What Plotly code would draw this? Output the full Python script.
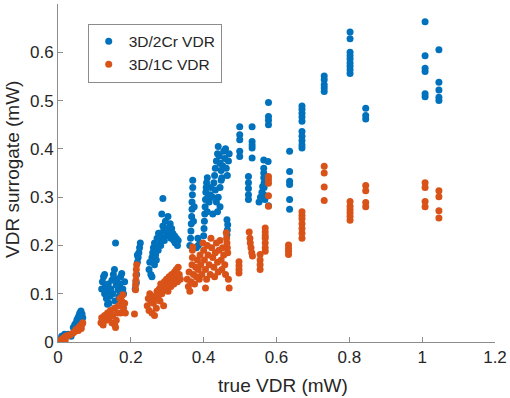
import plotly.graph_objects as go

# ---- data ----
series_names = ["3D/2Cr VDR", "3D/1C VDR"]

blue_pts = [
    (0.008,0.004),(0.012,0.008),(0.016,0.010),(0.020,0.012),(0.024,0.014),(0.028,0.016),(0.032,0.015),(0.036,0.012),(0.010,0.012),(0.018,0.016),
    (0.042,0.030),(0.046,0.036),(0.050,0.040),(0.052,0.046),(0.055,0.050),(0.058,0.056),(0.060,0.060),(0.063,0.064),(0.066,0.058),(0.068,0.050),(0.062,0.044),(0.056,0.038),
    (0.120,0.110),(0.122,0.125),(0.125,0.135),(0.128,0.100),(0.130,0.115),(0.133,0.090),(0.135,0.105),(0.138,0.120),(0.140,0.080),(0.143,0.095),(0.145,0.110),(0.148,0.128),(0.150,0.100),(0.152,0.140),(0.155,0.150),(0.157,0.085),(0.158,0.205),(0.160,0.118),(0.162,0.130),(0.165,0.108),(0.167,0.095),(0.170,0.120),(0.172,0.135),(0.175,0.142),(0.178,0.110),(0.180,0.100),(0.183,0.125),(0.128,0.140),(0.136,0.078),
    (0.212,0.110),(0.214,0.125),(0.216,0.140),(0.218,0.165),(0.220,0.175),(0.222,0.185),(0.224,0.195),(0.226,0.205),(0.218,0.180),(0.215,0.122),
    (0.250,0.150),(0.252,0.165),(0.255,0.140),(0.258,0.175),(0.260,0.185),(0.262,0.195),(0.265,0.160),(0.265,0.205),(0.268,0.180),(0.270,0.200),(0.272,0.215),(0.275,0.190),(0.278,0.210),(0.280,0.225),(0.282,0.200),(0.285,0.215),(0.288,0.240),(0.290,0.230),(0.292,0.210),(0.295,0.250),(0.298,0.220),(0.300,0.235),(0.302,0.260),(0.305,0.225),(0.308,0.245),(0.310,0.215),(0.312,0.235),(0.315,0.225),(0.318,0.210),(0.320,0.220),(0.322,0.205),(0.325,0.215),(0.328,0.200),(0.330,0.210),(0.288,0.297),(0.258,0.135),(0.270,0.170),(0.276,0.225),(0.285,0.265),
    (0.362,0.200),(0.364,0.215),(0.365,0.230),(0.366,0.245),(0.367,0.260),(0.368,0.275),(0.368,0.290),(0.369,0.305),(0.370,0.320),(0.370,0.335),(0.372,0.250),(0.374,0.280),
    (0.380,0.195),(0.385,0.200),(0.390,0.205),(0.384,0.215),
    (0.400,0.220),(0.401,0.235),(0.402,0.250),(0.403,0.265),(0.404,0.280),(0.405,0.295),(0.406,0.310),(0.407,0.320),(0.408,0.330),(0.410,0.340),(0.412,0.300),(0.410,0.270),
    (0.415,0.290),(0.418,0.305),(0.420,0.320),(0.425,0.300),(0.428,0.330),(0.430,0.345),(0.432,0.315),(0.435,0.290),(0.438,0.270),(0.440,0.300),(0.445,0.320),(0.448,0.335),(0.425,0.265),(0.445,0.280),
    (0.432,0.360),(0.435,0.375),(0.438,0.390),(0.440,0.405),(0.443,0.385),(0.445,0.370),(0.448,0.355),(0.450,0.340),(0.452,0.365),(0.455,0.395),(0.458,0.380),(0.460,0.400),(0.462,0.360),(0.465,0.345),(0.468,0.375),(0.470,0.390),
    (0.464,0.222),(0.465,0.232),(0.466,0.243),(0.464,0.253),
    (0.499,0.446),(0.499,0.429),(0.499,0.419),(0.499,0.395),(0.499,0.384),
    (0.533,0.446),(0.533,0.415),(0.533,0.408),(0.533,0.402),(0.533,0.381),
    (0.523,0.343),(0.523,0.330),(0.523,0.318),(0.523,0.305),(0.523,0.295),
    (0.552,0.290),(0.556,0.300),(0.560,0.310),(0.562,0.322),(0.565,0.305),(0.568,0.295),
    (0.565,0.377),(0.565,0.360),(0.565,0.350),(0.565,0.340),(0.566,0.330),(0.566,0.320),
    (0.578,0.496),(0.578,0.467),(0.578,0.459),(0.578,0.450),(0.577,0.374),(0.578,0.282),
    (0.636,0.395),(0.636,0.353),(0.636,0.333),(0.636,0.326),(0.636,0.295),(0.636,0.275),
    (0.670,0.489),(0.670,0.482),(0.670,0.474),(0.670,0.466),(0.670,0.457),(0.670,0.436),(0.670,0.426),(0.670,0.417),(0.670,0.408),(0.670,0.402),
    (0.731,0.551),(0.731,0.543),(0.731,0.533),(0.731,0.526),(0.731,0.519),
    (0.802,0.642),(0.802,0.628),(0.802,0.600),(0.802,0.593),(0.802,0.586),(0.802,0.578),(0.802,0.571),(0.802,0.564),(0.802,0.556),
    (0.845,0.484),(0.845,0.469),(0.845,0.462),
    (1.008,0.663),(1.008,0.593),(1.008,0.567),(1.008,0.560),(1.008,0.514),(1.008,0.508),
    (1.046,0.605),(1.046,0.538),(1.046,0.522),(1.046,0.507),(1.046,0.500),
]

orange_pts = [
    (0.006,0.002),(0.010,0.005),(0.014,0.008),(0.018,0.010),(0.022,0.012),(0.026,0.013),(0.030,0.014),(0.034,0.015),(0.012,0.000),(0.020,0.004),
    (0.042,0.019),(0.046,0.022),(0.050,0.026),(0.054,0.028),(0.058,0.031),(0.062,0.034),(0.066,0.037),(0.068,0.040),(0.064,0.028),(0.056,0.024),
    (0.118,0.040),(0.120,0.050),(0.124,0.035),(0.128,0.055),(0.132,0.045),(0.136,0.060),(0.140,0.050),(0.144,0.065),(0.148,0.040),(0.150,0.055),(0.155,0.070),(0.158,0.030),(0.160,0.045),(0.163,0.060),(0.166,0.075),(0.170,0.090),(0.172,0.060),(0.175,0.085),(0.178,0.098),(0.180,0.070),(0.183,0.080),(0.156,0.035),(0.185,0.060),
    (0.213,0.108),(0.213,0.118),(0.214,0.128),(0.214,0.139),(0.215,0.150),(0.216,0.160),(0.210,0.058),
    (0.245,0.075),(0.248,0.090),(0.250,0.065),(0.252,0.100),(0.255,0.085),(0.258,0.060),(0.260,0.095),(0.262,0.080),(0.265,0.055),(0.268,0.090),(0.270,0.070),(0.272,0.105),(0.275,0.095),(0.278,0.110),(0.280,0.085),(0.282,0.120),(0.285,0.100),(0.288,0.115),(0.290,0.075),(0.292,0.125),(0.295,0.110),(0.298,0.130),(0.300,0.120),(0.302,0.105),(0.305,0.135),(0.308,0.125),(0.310,0.115),(0.312,0.140),(0.315,0.130),(0.318,0.120),(0.320,0.145),(0.322,0.135),(0.325,0.150),(0.328,0.125),(0.330,0.155),(0.333,0.140),(0.336,0.130),
    (0.355,0.130),(0.358,0.115),(0.360,0.145),(0.362,0.105),(0.365,0.125),(0.368,0.160),(0.369,0.175),(0.369,0.190),(0.370,0.197),(0.372,0.140),(0.375,0.120),(0.378,0.155),(0.380,0.135),(0.383,0.170),(0.385,0.150),(0.388,0.130),(0.390,0.180),(0.392,0.160),(0.395,0.140),(0.398,0.205),(0.400,0.190),(0.402,0.170),(0.405,0.150),(0.408,0.130),(0.410,0.200),(0.412,0.180),(0.415,0.160),(0.418,0.140),(0.420,0.215),(0.422,0.195),(0.425,0.175),(0.428,0.155),(0.430,0.135),(0.432,0.185),(0.435,0.205),(0.438,0.165),(0.440,0.145),(0.442,0.190),(0.445,0.210),(0.448,0.170),(0.450,0.150),(0.452,0.195),(0.455,0.180),(0.458,0.160),(0.460,0.140),(0.462,0.226),(0.463,0.215),(0.464,0.205),(0.465,0.195),(0.466,0.185),(0.468,0.130),(0.470,0.112),(0.405,0.112),
    (0.497,0.166),(0.497,0.158),(0.497,0.150),(0.497,0.143),
    (0.525,0.228),(0.527,0.215),(0.528,0.205),(0.530,0.195),(0.532,0.185),(0.534,0.178),
    (0.555,0.181),(0.555,0.170),(0.555,0.160),(0.555,0.150),
    (0.569,0.236),(0.569,0.228),(0.569,0.220),(0.569,0.215),(0.569,0.205),(0.569,0.195),(0.569,0.188),
    (0.578,0.343),(0.578,0.336),(0.578,0.329),(0.578,0.303),(0.578,0.281),
    (0.633,0.201),(0.633,0.194),(0.633,0.188),(0.633,0.181),
    (0.670,0.270),(0.670,0.262),(0.670,0.255),(0.670,0.245),(0.670,0.235),(0.670,0.225),(0.670,0.215),
    (0.731,0.364),(0.731,0.350),(0.731,0.321),(0.731,0.293),
    (0.802,0.291),(0.802,0.281),(0.802,0.274),(0.802,0.267),(0.802,0.260),(0.802,0.252),
    (0.845,0.324),(0.845,0.313),(0.845,0.289),(0.845,0.280),
    (1.008,0.330),(1.008,0.320),(1.008,0.291),(1.008,0.280),
    (1.046,0.313),(1.046,0.301),(1.046,0.272),(1.046,0.257),
]

blue_x = [p[0] for p in blue_pts]
blue_y = [p[1] for p in blue_pts]
orange_x = [p[0] for p in orange_pts]
orange_y = [p[1] for p in orange_pts]

x_ticks = [0, 0.2, 0.4, 0.6, 0.8, 1.0, 1.2]
x_tick_labels = ["0", "0.2", "0.4", "0.6", "0.8", "1", "1.2"]
y_ticks = [0, 0.1, 0.2, 0.3, 0.4, 0.5, 0.6]
y_tick_labels = ["0", "0.1", "0.2", "0.3", "0.4", "0.5", "0.6"]
x_title = "true VDR (mW)"
y_title = "VDR surrogate (mW)"

BLUE = "#0072BD"
ORANGE = "#D95319"
FONT = "Liberation Sans, Arial, sans-serif"
TXT = "#262626"

fig = go.Figure()
fig.add_trace(go.Scatter(x=blue_x, y=blue_y, mode="markers", name=series_names[0],
                         marker=dict(color=BLUE, size=7, line=dict(width=0))))
fig.add_trace(go.Scatter(x=orange_x, y=orange_y, mode="markers", name=series_names[1],
                         marker=dict(color=ORANGE, size=7, line=dict(width=0))))

axis_common = dict(showgrid=False, zeroline=False, showline=True, linecolor="#8c8c8c",
                   linewidth=1, ticks="inside", ticklen=5, tickcolor="#8c8c8c",
                   tickfont=dict(family=FONT, size=17, color=TXT), mirror=False,
                   automargin=False)

fig.update_layout(
    width=510, height=398,
    margin=dict(l=58, r=15, t=4, b=56),
    paper_bgcolor="white", plot_bgcolor="white",
    font=dict(family=FONT, color=TXT),
    xaxis=dict(range=[0, 1.2], tickvals=x_ticks, ticktext=x_tick_labels, **axis_common),
    yaxis=dict(range=[0, 0.7], tickvals=y_ticks, ticktext=y_tick_labels, **axis_common),
    legend=dict(x=0.068, y=0.942, xanchor="left", yanchor="top",
                bordercolor="#8c8c8c", borderwidth=1, bgcolor="white",
                font=dict(family=FONT, size=15.5, color=TXT),
                itemwidth=30, tracegroupgap=0),
    showlegend=True,
)

fig.add_annotation(text=x_title, xref="paper", yref="paper", x=0.516, y=0,
                   xanchor="center", yanchor="middle", yshift=-43, showarrow=False,
                   font=dict(family=FONT, size=19, color=TXT))
fig.add_annotation(text=y_title, xref="paper", yref="paper", x=0, y=0.509,
                   xanchor="center", yanchor="middle", xshift=-45, textangle=-90,
                   showarrow=False, font=dict(family=FONT, size=19, color=TXT))

fig.write_html("out.html",
               config={"displayModeBar": False},
               post_script="document.body.style.margin='0';document.body.style.padding='0';document.body.style.overflow='hidden';")
